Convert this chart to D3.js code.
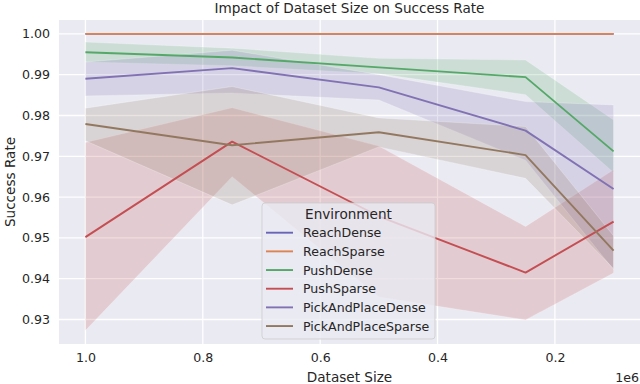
<!DOCTYPE html>
<html>
<head>
<meta charset="utf-8">
<script src="https://cdn.jsdelivr.net/npm/d3@7"></script>
<style>
  html, body { margin: 0; padding: 0; background: #fff; }
  svg { display: block; font-family: "DejaVu Sans", sans-serif; }
</style>
</head>
<body>
<svg id="chart" width="640" height="384"></svg>
<script>
// ---- data ----
const datasetSizes = [1000000, 750000, 500000, 250000, 100000];
const environments = ["ReachDense", "ReachSparse", "PushDense", "PushSparse", "PickAndPlaceDense", "PickAndPlaceSparse"];
const envColors = ["#6864b6", "#dd8452", "#55a868", "#c44e52", "#8172b3", "#937860"];

const reachDenseMean = [1.0, 1.0, 1.0, 1.0, 1.0];
const reachDenseLow  = [1.0, 1.0, 1.0, 1.0, 1.0];
const reachDenseHigh = [1.0, 1.0, 1.0, 1.0, 1.0];

const reachSparseMean = [1.0, 1.0, 1.0, 1.0, 1.0];
const reachSparseLow  = [1.0, 1.0, 1.0, 1.0, 1.0];
const reachSparseHigh = [1.0, 1.0, 1.0, 1.0, 1.0];

const pushDenseMean = [0.9955, 0.9942, 0.9918, 0.9894, 0.9712];
const pushDenseLow  = [0.9931, 0.9922, 0.9902, 0.9851, 0.9660];
const pushDenseHigh = [0.9980, 0.9965, 0.9940, 0.9936, 0.9789];

const pushSparseMean = [0.9502, 0.9736, 0.9553, 0.9415, 0.9540];
const pushSparseLow  = [0.9273, 0.9650, 0.9355, 0.9299, 0.9414];
const pushSparseHigh = [0.9734, 0.9819, 0.9725, 0.9528, 0.9667];

const pickDenseMean = [0.9890, 0.9916, 0.9869, 0.9763, 0.9620];
const pickDenseLow  = [0.9848, 0.9855, 0.9838, 0.9690, 0.9422];
const pickDenseHigh = [0.9931, 0.9960, 0.9900, 0.9834, 0.9826];

const pickSparseMean = [0.9779, 0.9727, 0.9759, 0.9703, 0.9469];
const pickSparseLow  = [0.9738, 0.9581, 0.9723, 0.9646, 0.9425];
const pickSparseHigh = [0.9818, 0.9871, 0.9794, 0.9773, 0.9505];

const xTicks = [1000000, 800000, 600000, 400000, 200000];
const xTickLabels = ["1.0", "0.8", "0.6", "0.4", "0.2"];
const yTicks = [0.93, 0.94, 0.95, 0.96, 0.97, 0.98, 0.99, 1.00];

const seriesMeans = [reachDenseMean, reachSparseMean, pushDenseMean, pushSparseMean, pickDenseMean, pickSparseMean];
const seriesLows  = [reachDenseLow, reachSparseLow, pushDenseLow, pushSparseLow, pickDenseLow, pickSparseLow];
const seriesHighs = [reachDenseHigh, reachSparseHigh, pushDenseHigh, pushSparseHigh, pickDenseHigh, pickSparseHigh];

// ---- layout ----
const W = 640, H = 384;
const plot = { left: 59, right: 640, top: 20, bottom: 344 };
const svg = d3.select("#chart");

const x = d3.scaleLinear().domain([1045000, 55000]).range([plot.left, plot.right]);
const y = d3.scaleLinear().domain([0.9240, 1.0034]).range([plot.bottom, plot.top]);

// background
svg.append("rect").attr("x", plot.left).attr("y", plot.top)
  .attr("width", plot.right - plot.left).attr("height", plot.bottom - plot.top)
  .attr("fill", "#eaeaf2");

// grid
const grid = svg.append("g");
grid.selectAll("line.gx").data(xTicks).join("line")
  .attr("x1", d => x(d)).attr("x2", d => x(d))
  .attr("y1", plot.top).attr("y2", plot.bottom)
  .attr("stroke", "#fff").attr("stroke-width", 1.3);
grid.selectAll("line.gy").data(yTicks).join("line")
  .attr("x1", plot.left).attr("x2", plot.right)
  .attr("y1", d => y(d)).attr("y2", d => y(d))
  .attr("stroke", "#fff").attr("stroke-width", 1.3);

// bands
const area = d3.area()
  .x((d, i) => x(datasetSizes[i]))
  .y0(d => y(d[0])).y1(d => y(d[1]));
const bands = svg.append("g");
environments.forEach((env, k) => {
  const pts = seriesLows[k].map((lo, i) => [lo, seriesHighs[k][i]]);
  bands.append("path").datum(pts)
    .attr("d", area)
    .attr("fill", envColors[k]).attr("fill-opacity", 0.2)
    .attr("stroke", "#ffffff").attr("stroke-opacity", 0.3).attr("stroke-width", 0.8);
});

// lines
const line = d3.line().x((d, i) => x(datasetSizes[i])).y(d => y(d));
const lines = svg.append("g");
environments.forEach((env, k) => {
  lines.append("path").datum(seriesMeans[k])
    .attr("d", line)
    .attr("fill", "none").attr("stroke", envColors[k])
    .attr("stroke-width", 1.9).attr("stroke-linejoin", "round").attr("stroke-linecap", "butt");
});

// axes
const xAxis = d3.axisBottom(x).tickValues(xTicks).tickFormat((d, i) => xTickLabels[i]).tickSize(0).tickPadding(9);
const gx = svg.append("g").attr("transform", `translate(0,${plot.bottom})`).call(xAxis);
gx.select(".domain").remove();
gx.selectAll("text").attr("font-size", 12.6).attr("fill", "#262626").attr("font-family", "DejaVu Sans");

const yAxis = d3.axisLeft(y).tickValues(yTicks).tickFormat(d3.format(".2f")).tickSize(0).tickPadding(9);
const gy = svg.append("g").attr("transform", `translate(${plot.left},0)`).call(yAxis);
gy.select(".domain").remove();
gy.selectAll("text").attr("font-size", 12.6).attr("fill", "#262626").attr("font-family", "DejaVu Sans");

// texts
svg.append("text").attr("x", (plot.left + plot.right) / 2).attr("y", 12.5)
  .attr("text-anchor", "middle").attr("font-size", 13.6).attr("fill", "#262626")
  .text("Impact of Dataset Size on Success Rate");
svg.append("text").attr("x", (plot.left + plot.right) / 2).attr("y", 382)
  .attr("text-anchor", "middle").attr("font-size", 13.6).attr("fill", "#262626")
  .text("Dataset Size");
svg.append("text").attr("transform", `translate(15,${(plot.top + plot.bottom) / 2}) rotate(-90)`)
  .attr("text-anchor", "middle").attr("font-size", 13.6).attr("fill", "#262626")
  .text("Success Rate");
svg.append("text").attr("x", 639).attr("y", 382)
  .attr("text-anchor", "end").attr("font-size", 12.6).attr("fill", "#262626")
  .text("1e6");

// legend
const lg = svg.append("g");
const lgBox = { x: 262, y: 203, w: 173, h: 136 };
lg.append("rect").attr("x", lgBox.x).attr("y", lgBox.y).attr("width", lgBox.w).attr("height", lgBox.h)
  .attr("rx", 3).attr("fill", "#eaeaf2").attr("fill-opacity", 0.8)
  .attr("stroke", "#cccccc").attr("stroke-opacity", 0.8).attr("stroke-width", 1);
lg.append("text").attr("x", lgBox.x + lgBox.w / 2).attr("y", 218.5)
  .attr("text-anchor", "middle").attr("font-size", 13.6).attr("fill", "#262626")
  .text("Environment");
environments.forEach((env, k) => {
  const cy = 232.7 + k * 18.67;
  lg.append("line").attr("x1", 266).attr("x2", 293).attr("y1", cy).attr("y2", cy)
    .attr("stroke", envColors[k]).attr("stroke-width", 1.9);
  lg.append("text").attr("x", 303).attr("y", cy + 4.5)
    .attr("font-size", 12.6).attr("fill", "#262626").text(env);
});
</script>
</body>
</html>
